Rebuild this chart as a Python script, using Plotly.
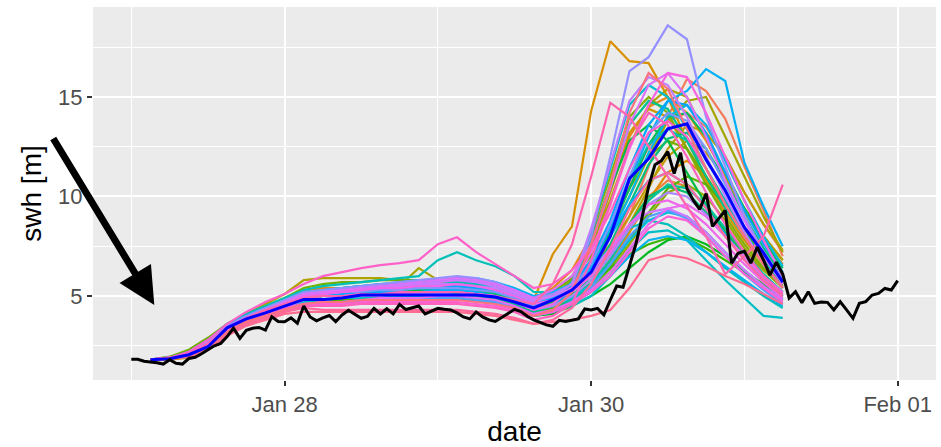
import math
import pandas as pd
import plotly.graph_objects as go

# ---------------------------------------------------------------------------
# Significant wave height: ensemble forecast members, forecast line, buoy obs
# ---------------------------------------------------------------------------
ens_start = "2020-01-27 03:00"   # first forecast step (3-hourly)
obs_start = "2020-01-27 00:00"   # first observation (hourly)

ens_members = [
    [1.8,1.85,2.0,2.6,3.4,3.9,4.3,4.6,5.0,5.1,5.2,5.3,5.4,5.4,5.5,5.5,5.6,5.5,5.4,5.1,4.6,5.0,5.6,6.8,8.5,10.5,12.5,13.8,14.2,13.5,12.0,10.2,8.6,7.2],
    [1.8,1.9,2.1,2.7,3.5,4.0,4.4,4.7,5.1,5.2,5.3,5.3,5.4,5.5,5.6,5.7,5.8,5.7,5.5,5.2,4.7,4.9,5.3,6.0,7.2,9.0,11.5,14.0,15.9,15.3,13.9,11.5,9.3,7.0],
    [1.8,1.85,1.95,2.4,3.2,3.7,4.0,4.3,4.6,4.7,4.8,4.9,4.9,5.0,5.0,5.0,5.1,5.0,4.9,4.6,4.3,4.6,5.0,5.8,7.0,8.6,10.0,10.8,10.5,9.5,8.3,7.2,6.3,5.5],
    [1.8,1.9,2.1,2.7,3.5,4.0,4.4,4.8,5.3,5.4,5.4,5.5,5.5,5.6,5.6,5.6,5.7,5.6,5.5,5.2,4.9,5.4,6.3,8.0,10.5,13.0,14.5,15.0,14.2,12.8,11.0,9.2,7.8,6.6],
    [1.75,1.8,1.9,2.3,3.1,3.6,3.9,4.2,4.5,4.5,4.6,4.7,4.7,4.8,4.8,4.8,4.9,4.8,4.7,4.4,4.1,4.3,4.7,5.4,6.6,8.2,9.8,11.2,11.8,11.0,9.6,8.0,6.6,5.5],
    [1.8,1.9,2.1,2.7,3.5,4.0,4.4,4.8,5.2,5.3,5.3,5.4,5.4,5.5,5.5,5.4,5.4,5.3,5.2,5.0,4.8,7.1,8.5,14.3,17.8,16.8,16.7,15.0,12.8,11.0,9.5,8.0,7.0,6.2],
    [1.8,1.85,2.0,2.5,3.3,3.8,4.2,4.5,4.9,5.0,5.0,5.1,5.1,5.2,5.2,5.2,5.3,5.2,5.1,4.8,4.5,4.8,5.4,7.4,10.2,13.2,14.4,14.0,12.4,10.8,9.2,7.8,6.6,5.6],
    [1.8,1.9,2.0,2.6,3.4,3.9,4.3,4.6,5.0,5.1,5.2,5.2,5.3,5.3,5.4,5.4,5.4,5.3,5.2,4.9,4.6,4.9,5.5,6.4,7.6,9.0,10.6,12.0,12.8,12.2,11.0,9.4,8.0,6.8],
    [1.8,1.85,2.0,2.5,3.3,3.8,4.1,4.5,4.8,4.8,4.9,5.0,5.0,5.0,5.1,5.1,5.1,5.0,4.9,4.6,4.3,4.5,5.0,5.6,6.8,8.6,10.4,12.4,13.6,13.2,12.0,10.2,8.6,7.3],
    [1.8,1.9,2.2,2.8,3.6,4.1,4.6,5.1,5.8,5.9,5.9,5.9,5.9,5.8,5.8,5.8,5.9,5.8,5.6,5.3,4.9,5.3,6.0,7.5,9.8,12.5,14.6,15.4,15.0,13.0,11.2,9.4,8.0,6.8],
    [1.8,1.85,2.0,2.5,3.3,3.8,4.2,4.6,5.0,5.1,5.2,5.3,5.4,5.5,6.4,5.8,5.6,5.5,5.3,5.0,4.6,4.9,5.5,6.6,8.2,10.0,12.0,13.8,14.8,15.0,13.0,11.0,9.0,7.2],
    [1.8,1.85,1.95,2.4,3.2,3.7,4.0,4.3,4.6,4.6,4.7,4.8,4.8,4.9,4.9,4.9,5.0,4.9,4.8,4.5,4.2,4.4,4.8,5.3,6.2,7.6,9.0,10.2,10.6,10.0,8.8,7.4,6.3,5.4],
    [1.8,1.9,2.1,2.7,3.5,4.0,4.4,4.8,5.2,5.3,5.3,5.4,5.4,5.4,5.5,5.5,5.5,5.4,5.3,5.0,4.6,5.0,5.8,8.2,11.0,14.0,15.0,14.2,12.4,10.6,9.0,7.6,6.4,5.5],
    [1.8,1.95,2.3,2.9,3.6,4.1,4.5,4.9,5.4,5.6,5.7,5.7,5.8,5.8,5.8,5.8,5.8,5.7,5.6,5.3,4.9,5.2,5.9,7.0,8.6,10.4,12.0,12.8,12.4,11.0,9.5,8.1,6.9,5.9],
    [1.8,1.85,2.0,2.5,3.3,3.8,4.1,4.4,4.7,4.8,4.8,4.9,4.9,5.0,5.0,5.0,5.0,4.9,4.8,4.5,4.2,4.4,4.8,5.4,6.4,7.8,9.2,10.4,11.0,10.6,9.6,8.3,7.0,5.9],
    [1.8,1.9,2.2,2.7,3.5,4.0,4.3,4.7,5.1,5.2,5.2,5.3,5.3,5.3,5.4,5.4,5.4,5.3,5.2,4.9,4.5,4.7,5.1,5.6,6.4,7.1,7.6,7.9,7.9,7.4,6.8,6.2,5.6,5.0],
    [1.8,1.85,2.0,2.4,3.2,3.7,4.0,4.3,4.6,4.7,4.7,4.8,4.8,4.8,4.9,4.9,4.9,4.8,4.7,4.4,4.0,4.1,4.5,5.0,5.6,6.4,7.2,7.8,8.0,7.6,7.0,6.2,5.5,4.9],
    [1.8,1.9,2.1,2.6,3.4,3.9,4.3,4.6,5.0,5.1,5.1,5.2,5.2,5.3,5.3,5.3,5.4,5.3,5.1,4.8,4.4,4.8,5.6,7.6,10.4,12.8,13.6,12.8,11.2,9.6,8.2,7.0,6.0,5.2],
    [1.8,1.85,2.0,2.5,3.3,3.8,4.2,4.5,4.9,5.0,5.1,5.2,5.3,5.3,5.4,5.4,5.4,5.3,5.2,4.9,4.5,4.8,5.4,6.5,8.2,10.4,12.6,14.0,14.2,13.0,11.2,9.4,7.8,6.4],
    [1.8,1.9,2.0,2.5,3.3,3.8,4.2,4.5,4.9,5.0,5.1,5.1,5.2,5.2,5.2,5.3,5.3,5.2,5.1,4.8,4.4,4.6,5.0,5.8,7.0,8.6,10.0,10.5,10.2,9.2,8.0,6.9,5.9,5.0],
    [1.8,1.85,2.0,2.5,3.2,3.7,4.1,4.4,4.7,4.8,4.9,5.0,5.0,5.1,5.1,5.1,5.1,5.0,4.9,4.6,4.2,4.5,5.0,6.0,7.6,9.6,11.6,12.9,13.2,12.4,10.8,9.0,7.4,6.0],
    [1.8,1.9,2.1,2.6,3.4,3.9,4.3,4.7,5.1,5.2,5.2,5.3,5.3,5.4,5.4,5.4,5.4,5.3,5.2,4.9,4.5,4.8,5.5,7.8,10.6,13.6,14.8,14.4,12.8,11.0,9.4,8.0,6.8,5.7],
    [1.8,1.85,2.0,2.4,3.2,3.7,4.0,4.3,4.6,4.6,4.7,4.8,4.8,4.8,4.9,4.9,4.9,4.8,4.7,4.4,4.0,4.3,4.8,5.6,6.8,8.4,9.8,10.6,10.4,9.6,8.4,7.2,6.1,5.2],
    [1.8,1.9,2.1,2.7,3.5,4.0,4.4,4.8,5.2,5.3,5.4,5.5,5.5,5.6,5.6,5.6,5.7,5.6,5.4,5.1,4.7,5.0,5.6,6.8,8.6,10.8,12.6,13.4,12.8,11.4,9.8,8.2,6.8,5.6],
    [1.8,1.9,2.2,2.8,3.6,4.1,4.5,4.9,5.3,5.5,5.6,5.7,5.8,5.9,6.0,6.8,7.2,6.8,6.5,6.0,5.2,5.2,5.6,6.4,7.4,8.4,8.8,8.6,8.0,7.2,6.4,5.7,5.0,4.4],
    [1.8,1.85,2.0,2.5,3.3,3.8,4.1,4.4,4.7,4.8,4.9,4.9,5.0,5.0,5.0,5.0,5.0,4.9,4.8,4.5,4.1,4.3,4.5,5.0,6.0,7.3,8.2,8.3,7.8,6.8,5.8,4.9,4.0,3.9],
    [1.8,1.9,2.1,2.6,3.4,3.9,4.3,4.6,5.0,5.1,5.2,5.3,5.3,5.4,5.4,5.4,5.5,5.4,5.2,4.9,4.5,4.9,5.7,8.2,11.4,14.6,15.6,15.0,13.4,11.4,9.6,8.0,6.6,5.4],
    [1.8,1.85,2.0,2.5,3.3,3.8,4.2,4.5,4.9,5.0,5.0,5.1,5.1,5.2,5.2,5.2,5.2,5.1,5.0,4.7,4.3,4.5,4.9,5.6,6.6,7.8,8.8,9.2,9.0,8.2,7.2,6.3,5.5,4.8],
    [1.8,1.9,2.1,2.7,3.5,4.0,4.4,4.8,5.2,5.3,5.4,5.5,5.6,5.7,5.8,5.8,5.8,5.7,5.5,5.2,4.8,5.0,5.5,6.5,8.0,10.0,12.2,14.0,14.6,13.6,11.8,9.8,8.0,6.5],
    [1.8,1.85,2.0,2.4,3.2,3.7,4.0,4.3,4.6,4.6,4.7,4.8,4.8,4.9,4.9,4.9,4.9,4.8,4.7,4.4,4.0,4.2,4.6,5.2,6.0,7.0,7.8,8.0,7.8,7.2,6.5,5.8,5.1,4.5],
    [1.8,1.9,2.1,2.6,3.4,3.9,4.3,4.7,5.0,5.2,5.4,5.5,5.6,5.6,5.7,5.8,5.9,5.9,5.7,5.4,5.0,5.2,5.6,6.6,8.4,10.8,13.0,14.8,15.3,16.4,15.8,11.7,9.5,7.5],
    [1.8,1.85,2.0,2.5,3.3,3.8,4.2,4.5,4.9,5.0,5.1,5.1,5.2,5.2,5.2,5.3,5.3,5.2,5.0,4.7,4.3,4.6,5.2,6.4,8.0,9.6,10.8,11.2,10.6,9.4,8.1,6.9,5.9,5.0],
    [1.8,1.9,2.1,2.7,3.5,4.0,4.4,4.7,5.1,5.2,5.2,5.3,5.3,5.4,5.4,5.4,5.5,5.4,5.3,5.0,4.6,4.9,5.5,6.8,8.8,11.4,13.6,14.8,14.6,13.2,11.2,9.3,7.6,6.2],
    [1.8,1.85,1.95,2.4,3.2,3.7,4.0,4.3,4.6,4.7,4.7,4.8,4.8,4.8,4.9,4.9,4.9,4.8,4.7,4.4,4.0,4.2,4.7,5.4,6.6,8.0,9.0,9.3,8.9,8.0,7.0,6.1,5.3,4.6],
    [1.8,1.9,2.1,2.6,3.4,3.9,4.3,4.6,5.0,5.1,5.2,5.2,5.3,5.3,5.4,5.4,5.4,5.3,5.2,4.9,4.5,4.8,5.4,6.6,8.6,11.0,13.2,14.2,13.8,12.4,10.6,8.8,7.2,5.9],
    [1.8,1.9,2.1,2.7,3.5,4.0,4.4,4.8,5.2,5.3,5.4,5.5,5.6,5.7,5.8,5.9,6.0,5.9,5.7,5.3,4.9,5.1,5.6,8.0,12.0,16.3,17.0,18.6,17.9,14.0,11.5,9.0,7.2,5.8],
    [1.8,1.85,2.0,2.5,3.3,3.8,4.1,4.4,4.8,4.8,4.9,5.0,5.0,5.1,5.1,5.1,5.2,5.1,5.0,4.7,4.3,4.5,5.0,5.8,7.0,8.4,9.6,10.2,10.0,9.1,8.0,6.9,5.9,5.1],
    [1.8,1.9,2.1,2.6,3.4,3.9,4.3,4.7,5.1,5.2,5.3,5.4,5.5,5.5,5.6,5.6,5.6,5.5,5.4,5.1,4.7,5.0,5.6,8.4,11.6,14.8,16.0,15.6,14.0,12.0,10.0,8.2,6.6,5.4],
    [1.8,1.85,2.0,2.5,3.3,3.8,4.2,4.6,5.0,5.1,5.2,5.3,5.4,5.5,5.6,5.7,5.8,5.7,5.5,5.2,4.8,5.0,5.4,6.2,7.4,8.6,9.2,9.4,9.0,8.2,7.2,6.3,5.5,4.8],
    [1.8,1.9,2.1,2.6,3.4,3.9,4.3,4.7,5.1,5.2,5.3,5.4,5.5,5.6,5.7,5.8,5.9,5.8,5.6,5.3,4.9,5.3,6.0,7.6,10.4,13.6,15.6,16.2,15.0,13.0,10.8,8.8,7.0,5.6],
    [1.8,1.85,2.0,2.4,3.2,3.7,4.0,4.3,4.6,4.7,4.7,4.8,4.9,4.9,4.9,5.0,5.0,4.9,4.8,4.5,4.1,4.3,4.7,5.3,6.2,7.4,8.6,9.4,9.6,9.0,8.0,7.0,6.0,5.2],
    [1.8,1.9,2.1,2.6,3.4,3.9,4.3,4.6,5.0,5.1,5.2,5.3,5.4,5.4,5.5,5.5,5.6,5.5,5.3,5.0,4.6,4.8,5.2,6.0,7.2,8.6,9.6,9.8,9.4,8.6,7.6,6.6,5.7,4.9],
    [1.8,1.85,2.0,2.5,3.3,3.8,4.2,4.5,4.9,5.0,5.0,5.1,5.1,5.1,5.2,5.2,5.2,5.1,5.0,4.7,4.3,4.6,5.4,7.2,9.6,12.4,14.6,16.2,16.0,14.2,12.0,9.8,7.8,6.0],
    [1.8,1.9,2.0,2.5,3.3,3.8,4.1,4.4,4.6,4.6,4.6,4.7,4.7,4.7,4.7,4.7,4.7,4.6,4.5,4.3,4.0,4.2,4.6,5.2,6.0,7.2,8.4,9.0,8.8,8.0,7.0,6.1,5.4,4.7],
    [1.8,1.9,2.2,2.8,3.6,4.2,4.7,5.1,5.6,6.0,6.2,6.4,6.55,6.65,6.8,7.6,7.95,7.2,6.6,6.0,5.4,5.6,6.3,7.4,9.2,11.4,13.2,13.8,13.0,11.4,9.6,8.0,6.6,5.4],
    [1.8,1.85,2.0,2.4,3.2,3.7,4.0,4.3,4.5,4.5,4.5,4.6,4.6,4.6,4.6,4.6,4.6,4.5,4.4,4.2,3.8,4.0,4.6,6.8,9.6,12.6,14.2,13.6,12.0,10.2,8.6,7.2,6.0,5.1],
    [1.8,1.9,2.1,2.6,3.4,3.9,4.3,4.6,4.9,5.0,5.0,5.1,5.1,5.2,5.2,5.2,5.2,5.1,5.0,4.8,4.6,5.6,7.6,11.0,14.7,14.0,12.5,11.0,9.5,8.0,6.1,7.0,8.0,10.6],
    [1.8,1.85,1.95,2.3,3.1,3.6,3.9,4.2,4.4,4.3,4.3,4.3,4.3,4.3,4.3,4.3,4.3,4.2,4.1,3.9,3.6,3.8,4.4,5.6,7.4,9.4,10.8,11.2,10.6,9.4,8.0,6.8,5.8,5.0],
    [1.8,1.85,2.0,2.3,3.0,3.5,3.8,4.1,4.2,4.2,4.2,4.2,4.2,4.2,4.2,4.2,4.2,4.1,4.0,3.8,3.6,3.7,3.8,4.0,4.3,5.4,6.8,7.06,6.9,6.5,6.0,5.6,5.1,4.6],
    [1.8,1.9,2.0,2.4,3.2,3.7,4.0,4.3,4.6,4.7,4.7,4.8,4.8,4.8,4.8,4.8,4.8,4.7,4.6,4.4,4.0,4.3,5.2,7.6,10.6,14.2,16.2,15.4,13.4,11.4,9.6,8.0,6.6,5.4],
]

# Ensemble-mean forecast (same 3-hourly steps)
ens_mean = [1.8,1.85,2.05,2.45,3.4,3.85,4.15,4.5,4.83,4.83,4.9,5.05,5.05,5.06,5.07,5.07,5.08,5.05,4.95,4.7,
            4.4,4.8,5.3,6.2,8.0,10.9,11.9,13.4,13.65,11.85,10.3,8.45,7.15,5.7]

# Hourly buoy observations
obs_swh = [1.82,1.82,1.72,1.70,1.65,1.58,1.80,1.62,1.58,1.86,
           1.92,2.10,2.30,2.50,2.62,2.96,3.38,2.87,3.28,3.38,
           3.42,3.29,3.96,3.72,3.71,3.90,3.63,4.50,3.95,3.75,
           3.90,4.02,3.71,4.05,4.28,4.10,3.88,3.98,4.38,4.10,
           4.36,4.10,4.58,4.32,4.40,4.50,4.10,4.25,4.38,4.33,
           4.30,4.15,3.95,3.85,4.20,3.95,3.80,3.72,3.92,4.15,
           4.33,4.22,3.98,3.80,3.66,3.55,3.48,3.78,3.72,3.78,
           3.85,4.35,4.30,4.38,4.05,4.80,5.50,5.44,6.50,7.60,
           8.98,10.50,11.60,11.80,12.25,11.15,12.20,10.40,9.80,9.35,
           10.15,8.50,8.90,9.30,6.65,7.15,7.25,6.65,7.45,6.80,
           6.05,6.70,6.10,4.90,5.22,4.66,5.22,4.63,4.70,4.68,
           4.30,4.71,4.30,3.88,4.63,4.72,5.05,5.13,5.38,5.30,
           5.77]

x_ticks = ["2020-01-28", "2020-01-30", "2020-02-01"]
x_tick_text = ["Jan 28", "Jan 30", "Feb 01"]
y_ticks = [5, 10, 15]

ens_time = pd.date_range(ens_start, periods=len(ens_mean), freq="3h")
obs_time = pd.date_range(obs_start, periods=len(obs_swh), freq="h")


def hue_pal(n, h0=15.0, h1=375.0, c=100.0, l=65.0):
    """Evenly spaced HCL hues (polar CIE-Luv), as in ggplot2's default scale."""
    xn, yn, zn = 95.047, 100.0, 108.883
    un = 4 * xn / (xn + 15 * yn + 3 * zn)
    vn = 9 * yn / (xn + 15 * yn + 3 * zn)
    out = []
    for i in range(n):
        h = math.radians(h0 + (h1 - h0) * i / n)
        U, V = c * math.cos(h), c * math.sin(h)
        Y = yn * ((l + 16) / 116) ** 3 if l > 8 else yn * l / 903.3
        u = U / (13 * l) + un
        v = V / (13 * l) + vn
        X = 9.0 * Y * u / (4 * v)
        Z = -X / 3 - 5 * Y + 3 * Y / v
        rgb = [
            (3.240479 * X - 1.537150 * Y - 0.498535 * Z) / 100,
            (-0.969256 * X + 1.875992 * Y + 0.041556 * Z) / 100,
            (0.055648 * X - 0.204043 * Y + 1.057311 * Z) / 100,
        ]
        chans = []
        for t in rgb:
            t = 1.055 * t ** (1 / 2.4) - 0.055 if t > 0.0031308 else 12.92 * t
            chans.append(int(round(min(max(t, 0), 1) * 255)))
        out.append("#%02X%02X%02X" % tuple(chans))
    return out


colors = hue_pal(len(ens_members))

fig = go.Figure()
for i, member in enumerate(ens_members):
    fig.add_trace(go.Scatter(x=ens_time, y=member, mode="lines",
                             line=dict(color=colors[i], width=2.2),
                             name=f"member {i + 1}", showlegend=False))

fig.add_trace(go.Scatter(x=ens_time, y=ens_mean, mode="lines",
                         line=dict(color="#0000FF", width=3),
                         name="ensemble mean", showlegend=False))
fig.add_trace(go.Scatter(x=obs_time, y=obs_swh, mode="lines",
                         line=dict(color="#000000", width=3),
                         name="observed", showlegend=False))

# Arrow pointing at the forecast start
fig.add_annotation(x="2020-01-27 03:36", y=4.55, xref="x", yref="y",
                   ax=-102, ay=-168, text="", showarrow=True,
                   arrowhead=2, arrowsize=1.05, arrowwidth=7, arrowcolor="#000000")

font_family = "Liberation Sans, Arial, Helvetica, sans-serif"
grid = dict(gridcolor="#FFFFFF", gridwidth=2.2, zeroline=False, showline=False,
            ticks="outside", ticklen=5, tickwidth=2, tickcolor="#333333",
            tickfont=dict(family=font_family, size=22, color="#4D4D4D"))

fig.update_layout(
    width=941, height=447,
    margin=dict(l=93, r=5, t=7, b=67),
    paper_bgcolor="#FFFFFF", plot_bgcolor="#EBEBEB",
    font=dict(family=font_family, color="#000000"),
    showlegend=False,
    xaxis=dict(type="date", range=["2020-01-26 18:00", "2020-02-01 06:00"],
               tickmode="array", tickvals=x_ticks, ticktext=x_tick_text,
               minor=dict(dtick=86400000, tick0="2020-01-27", showgrid=True,
                          gridcolor="#FFFFFF", gridwidth=1.1, ticks=""),
               title=dict(text="date", font=dict(size=28), standoff=4),
               **grid),
    yaxis=dict(range=[0.78, 19.52], tickmode="array", tickvals=y_ticks,
               minor=dict(dtick=2.5, tick0=0, showgrid=True,
                          gridcolor="#FFFFFF", gridwidth=1.1, ticks=""),
               title=dict(text="swh [m]", font=dict(size=28), standoff=8),
               **grid),
)

fig.write_html("out.html")
